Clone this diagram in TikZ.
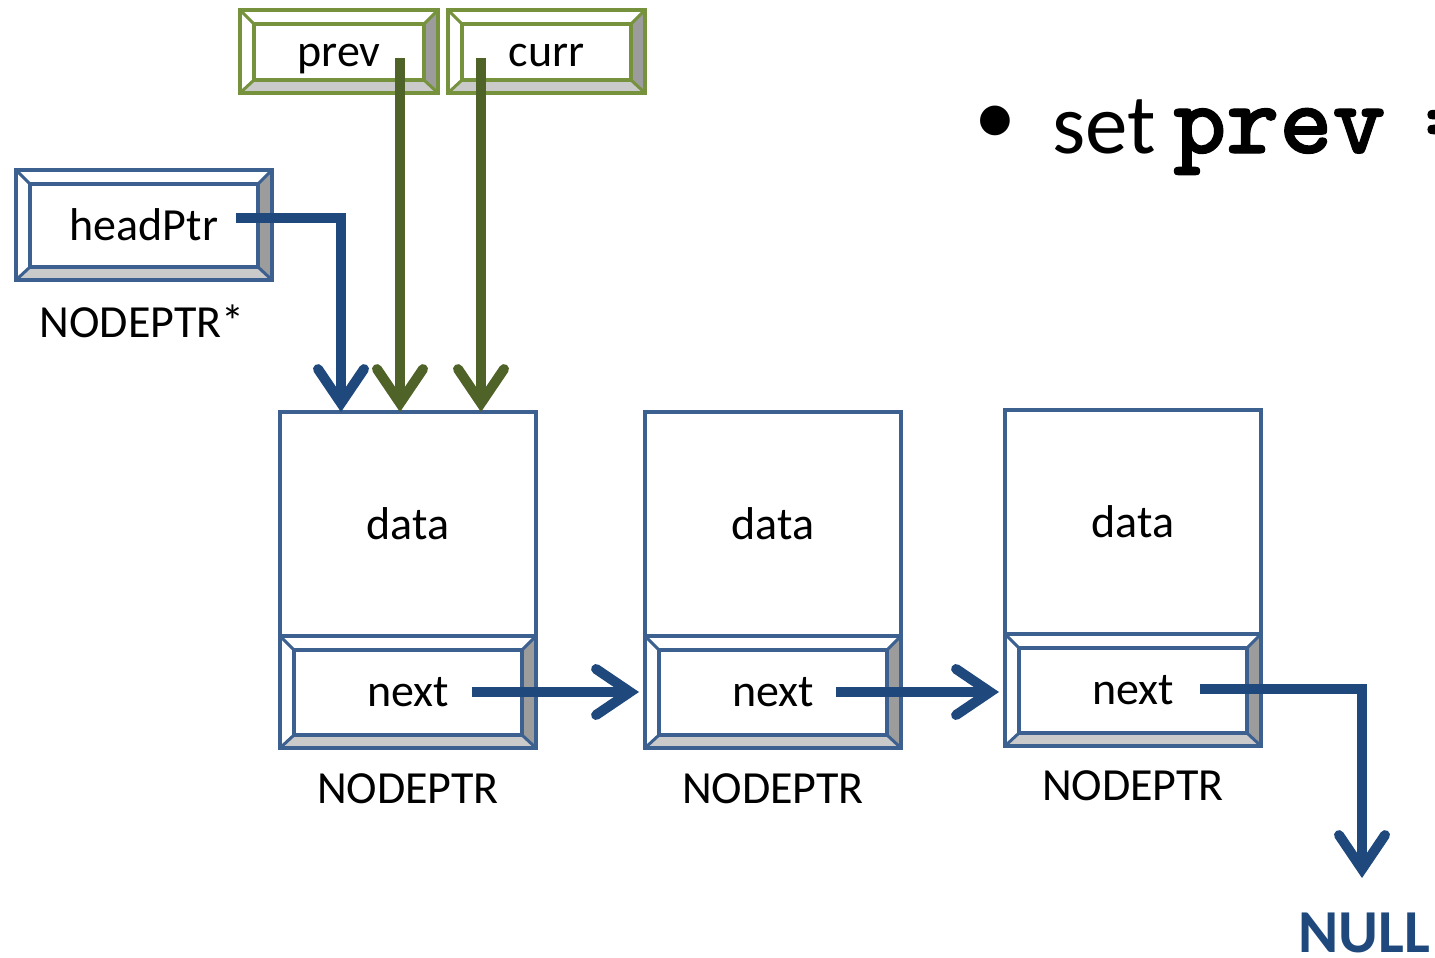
\documentclass[tikz,border=0pt]{standalone}
\usepackage{fontspec}
\setmainfont{Carlito}
\newfontfamily\codebf{lmmonolt10-bold.otf}[FakeBold=1.2]
\usetikzlibrary{arrows.meta}
\definecolor{boxblue}{HTML}{3C6090}
\definecolor{arrblue}{HTML}{1F497D}
\definecolor{boxgreen}{HTML}{76923C}
\definecolor{arrgreen}{HTML}{4F6228}
\definecolor{bevdark}{HTML}{9C9C9C}
\definecolor{bevlight}{HTML}{CACACA}
\tikzset{
  lbl/.style={font=\fontsize{23pt}{27pt}\selectfont, inner sep=0pt},
  plain/.style={draw=#1, line width=2.3pt, fill=white, inner sep=0pt, outer sep=0pt,
    font=\fontsize{23pt}{27pt}\selectfont},
  bevel/.style={plain=#1,
    path picture={
      \def\bb{path picture bounding box}
      \fill[bevdark] (\bb.south east) -- (\bb.north east)
        -- ([shift={(-7pt,-7pt)}]\bb.north east) -- ([shift={(-7pt,6.5pt)}]\bb.south east) -- cycle;
      \fill[bevlight] (\bb.south west) -- (\bb.south east)
        -- ([shift={(-7pt,6.5pt)}]\bb.south east) -- ([shift={(7pt,6.5pt)}]\bb.south west) -- cycle;
      \draw[#1, line width=2.3pt]
        ([shift={(7pt,6.5pt)}]\bb.south west) rectangle ([shift={(-7pt,-7pt)}]\bb.north east);
      \draw[#1, line width=1.5pt]
        (\bb.south west) -- ([shift={(7pt,6.5pt)}]\bb.south west)
        (\bb.south east) -- ([shift={(-7pt,6.5pt)}]\bb.south east)
        (\bb.north west) -- ([shift={(7pt,-7pt)}]\bb.north west)
        (\bb.north east) -- ([shift={(-7pt,-7pt)}]\bb.north east);
    }},
  ptr/.style={draw=#1, line width=5pt, line join=miter,
    -{Straight Barb[length=17pt, width=23pt, line cap=round, line join=miter]}},
}
\begin{document}
\begin{tikzpicture}[x=0.5pt, y=-0.5pt]
\useasboundingbox (0,0) rectangle (1435,958);

% pointer variables
\node[bevel=boxblue, minimum width=128pt, minimum height=55pt] (hp) at (144,225) {headPtr};
\node[lbl] (hpt) at (142,321) {NODEPTR*};
\node[bevel=boxgreen, minimum width=99pt, minimum height=41.5pt] (prev) at (339,51.5)
  {\raisebox{-7.5pt}[0pt][0pt]{prev}};
\node[bevel=boxgreen, minimum width=98.5pt, minimum height=41.5pt] (curr) at (546.5,51.5)
  {\raisebox{-7.5pt}[0pt][0pt]{curr}};

% list nodes
\node[plain=boxblue, minimum width=128pt, minimum height=112pt] (d1) at (408,524) {data};
\node[bevel=boxblue, minimum width=128pt, minimum height=56pt] (n1) at (408,692) {next};
\node[lbl] (t1) at (408,789) {NODEPTR};
\node[plain=boxblue, minimum width=128pt, minimum height=112pt] (d2) at (773,524) {data};
\node[bevel=boxblue, minimum width=128pt, minimum height=56pt] (n2) at (773,692) {next};
\node[lbl] (t2) at (773,789) {NODEPTR};
\node[plain=boxblue, minimum width=128pt, minimum height=112pt] (d3) at (1133,522) {data};
\node[bevel=boxblue, minimum width=128pt, minimum height=56pt] (n3) at (1133,690) {next};
\node[lbl] (t3) at (1133,786) {NODEPTR};

\node[font=\fontsize{30.5pt}{36pt}\selectfont\bfseries, text=arrblue, inner sep=0pt] (null) at (1364,933) {NULL};

% bullet text
\node[font=\fontsize{42pt}{48pt}\selectfont, inner sep=0pt] (bul) at (995,125) {\textbullet};
\node[font=\fontsize{42.5pt}{48pt}\selectfont, inner sep=0pt, anchor=base west] (set) at (1052,153) {set};
\node[font=\codebf\fontsize{50.5pt}{56pt}\selectfont, inner sep=0pt, anchor=base west] (pv) at (1173,153) {prev};
\node[font=\codebf\fontsize{50.5pt}{56pt}\selectfont, inner sep=0pt, anchor=base west] (eq) at (1424,153) {=};

% connector start points
\coordinate (hpo) at (236,218);
\coordinate (po) at (400,58);
\coordinate (co) at (481,58);
\coordinate (o1) at (472,692);
\coordinate (o2) at (836,692);
\coordinate (o3) at (1200,689);
\coordinate (nullin) at (1362,878);

% connectors
\draw[ptr=arrblue] (hpo) -- (hpo -| 341,0) -- (341,0 |- d1.north);
\draw[ptr=arrgreen] (po) -- (po |- d1.north);
\draw[ptr=arrgreen] (co) -- (co |- d1.north);
\draw[ptr=arrblue] (o1) -- ([xshift=-3pt]o1 -| n2.west);
\draw[ptr=arrblue] (o2) -- ([xshift=-3pt]o2 -| n3.west);
\draw[ptr=arrblue] (o3) -- (o3 -| nullin) -- (nullin);
\end{tikzpicture}
\end{document}
